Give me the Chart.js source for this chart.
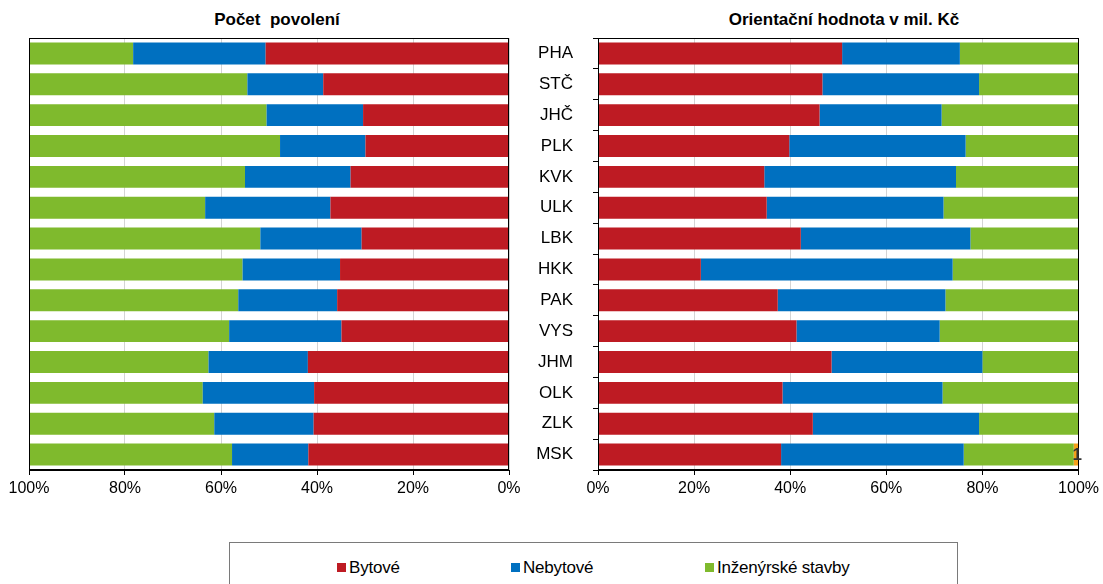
<!DOCTYPE html>
<html>
<head>
<meta charset="utf-8">
<script src="https://cdn.jsdelivr.net/npm/chart.js@4.4.1/dist/chart.umd.min.js"></script>
<style>
  body { margin: 0; background: #fff; font-family: "Liberation Sans", Arial, sans-serif; }
  #page { position: relative; width: 1103px; height: 584px; overflow: hidden; }
  .box { position: absolute; top: 0; height: 510px; }
  #leftBox { left: 0; width: 545px; }
  #rightBox { left: 520px; width: 583px; }
  .title { position: absolute; top: 10px; line-height: 20px; font-weight: bold; font-size: 17px; text-align: center; color: #000; white-space: pre; }
  #titleLeft { left: 127px; width: 300px; }
  #titleRight { left: 644px; width: 400px; }
  #legend { position: absolute; left: 229px; top: 542px; width: 729px; height: 60px; border: 1px solid #7a7a7a; box-sizing: border-box; }
  .item { position: absolute; top: 15px; font-size: 17px; line-height: 20px; color: #000; white-space: nowrap; letter-spacing: -0.2px; }
  .item i { display: inline-block; width: 9px; height: 9px; margin-right: 3px; vertical-align: 1px; }
  .item:nth-child(1) { left: 107px; }
  .item:nth-child(2) { left: 281px; }
  .item:nth-child(3) { left: 475px; }
</style>
</head>
<body>
<div id="page">
  <div class="title" id="titleLeft">Počet  povolení</div>
  <div class="title" id="titleRight">Orientační hodnota v mil. Kč</div>
  <div class="box" id="leftBox"><canvas id="chartPermits"></canvas></div>
  <div class="box" id="rightBox"><canvas id="chartValue"></canvas></div>
  <div id="legend"></div>
</div>
<script>
// kraje
const regions = ["PHA","STČ","JHČ","PLK","KVK","ULK","LBK","HKK","PAK","VYS","JHM","OLK","ZLK","MSK"];

// podíly (%) – počet povolení
const permitsHousing = [50.7,38.7,30.4,29.9,33.0,37.2,30.7,35.2,35.8,34.9,41.9,40.6,40.7,41.8];
const permitsNonHousing = [27.6,15.8,20.1,17.8,22.0,26.1,21.1,20.3,20.6,23.4,20.7,23.2,20.7,15.9];
const permitsCivil = [21.7,45.5,49.5,52.3,45.0,36.7,48.2,44.5,43.6,41.7,37.4,36.2,38.6,42.3];

// podíly (%) – orientační hodnota
const valueHousing = [50.8,46.7,46.1,39.8,34.6,35.1,42.2,21.4,37.4,41.3,48.6,38.4,44.7,38.1];
const valueNonHousing = [24.5,32.6,25.4,36.7,39.9,36.8,35.3,52.4,34.9,29.8,31.4,33.3,34.6,38.0];
const valueCivil = [24.7,20.7,28.5,23.5,25.5,28.1,22.5,26.2,27.7,28.9,20.0,28.3,20.7,22.9];
const valueOther = [0,0,0,0,0,0,0,0,0,0,0,0,0,1.0];
const valueOtherLabels = ["","","","","","","","","","","","","","1"];

const percentTicks = [0,20,40,60,80,100];

const seriesNames = ["Bytové","Nebytové","Inženýrské stavby"];
const seriesColors = ["#BE1B23","#0070C0","#7FBA2D"];
const otherColor = "#F5A01A";

const FONT = "'Liberation Sans', Arial, sans-serif";

// rámeček kolem plochy grafu
const frame = {
  id: "frame",
  afterDatasetsDraw(chart) {
    const a = chart.chartArea, c = chart.ctx;
    c.save();
    c.strokeStyle = "#000";
    c.lineWidth = 1;
    c.strokeRect(Math.round(a.left) + 0.5, Math.round(a.top) + 0.5,
                 Math.round(a.right - a.left) - 1, Math.round(a.bottom - a.top) - 1);
    c.restore();
  }
};

// popisek malé oranžové části
const otherLabel = {
  id: "otherLabel",
  afterDatasetsDraw(chart) {
    const meta = chart.getDatasetMeta(3);
    const c = chart.ctx;
    c.save();
    c.font = "bold 17px " + FONT;
    c.fillStyle = "#333";
    c.textAlign = "center";
    c.textBaseline = "middle";
    meta.data.forEach((bar, i) => {
      if (!valueOtherLabels[i]) return;
      const p = bar.getProps(["x","base","y"], true);
      c.fillText(valueOtherLabels[i], (p.x + p.base) / 2 + 1, p.y + 1);
    });
    c.restore();
  }
};

function xScale(reverse) {
  return {
    stacked: true, min: 0, max: 100, reverse: reverse,
    afterBuildTicks: s => { s.ticks = percentTicks.map(v => ({ value: v })); },
    afterFit: s => { s.height = 40; },
    grid: { color: "#d4d4d4", tickColor: "#000", tickLength: 5 },
    border: { color: "#000", width: 1 },
    ticks: { color: "#000", padding: 4, maxRotation: 0, font: { size: 16, family: FONT },
             callback: v => v + "%" }
  };
}

function bars(label, data, color) {
  return { label: label, data: data, backgroundColor: color, borderWidth: 0,
           barPercentage: 0.71, categoryPercentage: 1 };
}

Chart.defaults.font.family = FONT;

new Chart(document.getElementById("chartPermits"), {
  type: "bar",
  data: {
    labels: regions,
    datasets: [
      bars(seriesNames[0], permitsHousing, seriesColors[0]),
      bars(seriesNames[1], permitsNonHousing, seriesColors[1]),
      bars(seriesNames[2], permitsCivil, seriesColors[2])
    ]
  },
  options: {
    indexAxis: "y", responsive: true, maintainAspectRatio: false, animation: false,
    devicePixelRatio: 1,
    layout: { padding: { left: 29, right: 36, top: 38, bottom: 0 } },
    plugins: { legend: { display: false }, tooltip: { enabled: false } },
    scales: {
      x: xScale(true),
      y: {
        stacked: true,
        afterFit: s => { s.width = 0; },
        grid: { display: false },
        border: { color: "#000" },
        ticks: { display: false }
      }
    }
  },
  plugins: [frame]
});

new Chart(document.getElementById("chartValue"), {
  type: "bar",
  data: {
    labels: regions,
    datasets: [
      bars(seriesNames[0], valueHousing, seriesColors[0]),
      bars(seriesNames[1], valueNonHousing, seriesColors[1]),
      bars(seriesNames[2], valueCivil, seriesColors[2]),
      bars("Ostatní", valueOther, otherColor)
    ]
  },
  options: {
    indexAxis: "y", responsive: true, maintainAspectRatio: false, animation: false,
    devicePixelRatio: 1,
    layout: { padding: { left: 15, right: 24, top: 38, bottom: 0 } },
    plugins: { legend: { display: false }, tooltip: { enabled: false } },
    scales: {
      x: xScale(false),
      y: {
        stacked: true,
        afterFit: s => { s.width = 63; },
        grid: { offset: true, drawOnChartArea: false, tickColor: "#000", tickLength: 5 },
        border: { color: "#000" },
        ticks: { color: "#000", padding: 20, font: { size: 17, family: FONT } }
      }
    }
  },
  plugins: [frame, otherLabel]
});

// legenda
const legend = document.getElementById("legend");
seriesNames.forEach((name, i) => {
  const el = document.createElement("div");
  el.className = "item";
  el.innerHTML = '<i style="background:' + seriesColors[i] + '"></i>' + name;
  legend.appendChild(el);
});
</script>
</body>
</html>
